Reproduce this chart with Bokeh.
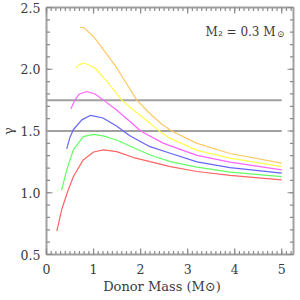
import numpy as np
from bokeh.plotting import figure
from bokeh.models import Range1d, Label
from bokeh.core.properties import value
from bokeh.embed import file_html
from bokeh.resources import INLINE

# ---- data ----
red_x = [0.22, 0.32, 0.45, 0.57, 0.78, 1.0, 1.21, 1.49, 1.85, 2.2, 2.63, 3.2, 3.9, 5.0]
red_y = [0.69, 0.86, 1.01, 1.13, 1.266, 1.33, 1.347, 1.333, 1.285, 1.252, 1.212, 1.172, 1.14, 1.105]

green_x = [0.32, 0.43, 0.57, 0.78, 1.0, 1.2, 1.49, 1.76, 2.2, 2.63, 3.2, 3.9, 5.0]
green_y = [1.02, 1.185, 1.347, 1.454, 1.472, 1.46, 1.427, 1.38, 1.306, 1.252, 1.207, 1.167, 1.131]

blue_x = [0.43, 0.50, 0.57, 0.75, 0.94, 1.2, 1.49, 1.63, 1.78, 2.2, 2.63, 3.2, 3.9, 5.0]
blue_y = [1.355, 1.45, 1.51, 1.59, 1.627, 1.605, 1.54, 1.50, 1.46, 1.373, 1.32, 1.25, 1.204, 1.159]

magenta_x = [0.52, 0.60, 0.70, 0.855, 1.03, 1.21, 1.49, 1.78, 2.0, 2.49, 3.2, 3.9, 5.0]
magenta_y = [1.68, 1.75, 1.80, 1.82, 1.80, 1.75, 1.67, 1.575, 1.50, 1.40, 1.303, 1.248, 1.185]

yellow_x = [0.62, 0.70, 0.80, 1.03, 1.32, 1.60, 1.78, 2.13, 2.38, 2.63, 3.2, 3.9, 5.0]
yellow_y = [2.01, 2.04, 2.05, 2.01, 1.885, 1.75, 1.69, 1.585, 1.505, 1.44, 1.343, 1.28, 1.212]

orange_x = [0.71, 0.80, 0.93, 1.03, 1.46, 1.92, 2.2, 2.45, 2.66, 3.2, 3.9, 5.0]
orange_y = [2.34, 2.335, 2.29, 2.25, 2.03, 1.75, 1.64, 1.555, 1.50, 1.40, 1.318, 1.24]

hline_levels = [1.5, 1.75]
hline_x0 = [0.0, 0.0]
hline_x1 = [5.0, 5.0]

x_ticks = [0, 1, 2, 3, 4, 5]
x_tick_labels = ["0", "1", "2", "3", "4", "5"]
y_ticks = [0.5, 1.0, 1.5, 2.0, 2.5]
y_tick_labels = ["0.5", "1.0", "1.5", "2.0", "2.5"]
x_minor_step = 0.1
y_minor_step = 0.1
x_title = "Donor Mass (M\u2299)"
y_title = "\u03b3"

X_MIN, X_MAX = 0.0, 5.25
Y_MIN, Y_MAX = 0.5, 2.5

FONT = "DejaVu Serif"
GRAY = "#a0a0a0"
TICK = "#8c8c8c"
TXT = "#3a3a3a"

# layout of the plotting box inside the 300x300 canvas (pixels)
W, H = 300, 300
BL, BR, BT, BB = 46, 7, 7, 46
dx = (X_MAX - X_MIN) / (W - BL - BR)   # data units per pixel
dy = (Y_MAX - Y_MIN) / (H - BT - BB)

# the Bokeh frame covers the whole canvas; the box is drawn inside it
p = figure(width=W, height=H, output_backend="svg", toolbar_location=None,
           x_range=Range1d(X_MIN - BL * dx, X_MAX + BR * dx),
           y_range=Range1d(Y_MIN - BB * dy, Y_MAX + BT * dy),
           min_border=0, min_border_left=0, min_border_right=0,
           min_border_top=0, min_border_bottom=0)
p.axis.visible = False
p.grid.visible = False
p.outline_line_color = None
p.background_fill_color = "white"
p.border_fill_color = "white"

def sx(px):
    return X_MIN - BL * dx + px * dx

def sy(py):
    return Y_MAX + BT * dy - py * dy

# box
p.segment(x0=[X_MIN, X_MIN, X_MIN, X_MAX], y0=[Y_MIN, Y_MAX, Y_MIN, Y_MIN],
          x1=[X_MAX, X_MAX, X_MIN, X_MAX], y1=[Y_MIN, Y_MAX, Y_MAX, Y_MAX],
          line_color=GRAY, line_width=2)

# inward ticks on all four sides
xmin = [round(float(v), 6) for v in np.arange(X_MIN, X_MAX + 1e-9, x_minor_step)]
ymin = [round(float(v), 6) for v in np.arange(Y_MIN, Y_MAX + 1e-9, y_minor_step)]
tx0, ty0, tx1, ty1 = [], [], [], []
for xs, L in ((x_ticks, 6), (xmin, 3.5)):
    for xv in xs:
        tx0 += [xv, xv]; tx1 += [xv, xv]
        ty0 += [Y_MIN, Y_MAX]; ty1 += [Y_MIN + L * dy, Y_MAX - L * dy]
for ys, L in ((y_ticks, 6), (ymin, 3.5)):
    for yv in ys:
        tx0 += [X_MIN, X_MAX]; tx1 += [X_MIN + L * dx, X_MAX - L * dx]
        ty0 += [yv, yv]; ty1 += [yv, yv]
p.segment(x0=tx0, y0=ty0, x1=tx1, y1=ty1, line_color=TICK, line_width=1.2)

# tick labels
p.text(x=x_ticks, y=[Y_MIN - 14 * dy] * len(x_ticks), text=x_tick_labels,
       text_align="center", text_baseline="middle", text_font=value(FONT),
       text_font_size="12.5px", text_color=TXT)
p.text(x=[X_MIN - 6 * dx] * len(y_ticks), y=y_ticks, text=y_tick_labels,
       text_align="right", text_baseline="middle", text_font=value(FONT),
       text_font_size="12.5px", text_color=TXT)

# axis titles
p.text(x=[sx(161.5)], y=[sy(286)], text=[x_title], text_align="center",
       text_baseline="middle", text_font=value(FONT), text_font_size="13px", text_color=TXT)
p.text(x=[sx(8)], y=[1.5], text=[y_title], angle=np.pi / 2, text_align="center",
       text_baseline="middle", text_font=value(FONT), text_font_size="13px", text_color=TXT)

p.segment(x0=hline_x0, y0=hline_levels, x1=hline_x1, y1=hline_levels,
          line_color=GRAY, line_width=2)

series = [
    (red_x, red_y, "#ff6464"),
    (green_x, green_y, "#64ff64"),
    (blue_x, blue_y, "#6464ff"),
    (magenta_x, magenta_y, "#ff64ff"),
    (yellow_x, yellow_y, "#ffff50"),
    (orange_x, orange_y, "#ffc864"),
]
for xs, ys, c in series:
    p.line(xs, ys, line_color=c, line_width=1.2)

p.add_layout(Label(x=5.06, y=2.30, x_offset=-9, text="M\u2082 = 0.3 M", text_align="right",
                   text_baseline="alphabetic",
                   text_font=FONT, text_font_size="12px", text_color=TXT))
p.add_layout(Label(x=5.06, y=2.30, y_offset=-2, text="\u2299", text_align="right",
                   text_baseline="alphabetic",
                   text_font=FONT, text_font_size="9px", text_color=TXT))

open("out.html", "w").write(file_html(p, INLINE))
